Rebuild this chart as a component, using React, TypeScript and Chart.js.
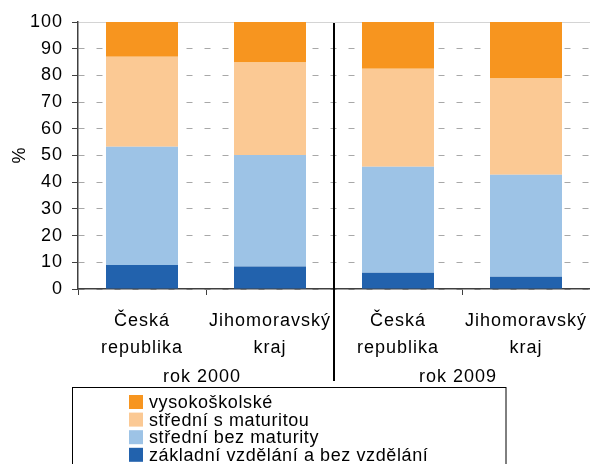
import React, { useEffect, useRef } from "react";
import { Chart, registerables } from "chart.js";

Chart.register(...registerables);

const categories = [
  ["Česká", "republika"],
  ["Jihomoravský", "kraj"],
  ["Česká", "republika"],
  ["Jihomoravský", "kraj"],
];
const groups = ["rok 2000", "rok 2009"];
const zakladni = [9.0, 8.4, 6.1, 4.6];
const stredniBez = [44.3, 41.8, 39.7, 38.2];
const stredniS = [33.7, 34.6, 36.7, 36.0];
const vysoko = [13.0, 15.2, 17.5, 21.2];
const seriesNames = [
  "základní vzdělání a bez vzdělání",
  "střední bez maturity",
  "střední s maturitou",
  "vysokoškolské",
];
const seriesColors = ["#2262AD", "#9DC3E6", "#FBC994", "#F7951F"];
const yAxisTitle = "%";

const FONT = "'Liberation Sans', Arial, sans-serif";
const SPACING = "1px";

const customPlugin = {
  id: "custom",
  beforeUpdate(chart: any) {
    chart.ctx.letterSpacing = SPACING;
  },
  beforeDraw(chart: any) {
    chart.ctx.letterSpacing = SPACING;
  },
  afterDraw(chart: any) {
    const ctx = chart.ctx;
    const x = chart.scales.x;
    const area = chart.chartArea;
    ctx.save();
    ctx.letterSpacing = SPACING;
    // separator between years
    const sepX = Math.round((x.getPixelForValue(1) + x.getPixelForValue(2)) / 2);
    ctx.strokeStyle = "#000";
    ctx.lineWidth = 2;
    ctx.beginPath();
    ctx.moveTo(sepX, area.top + 1);
    ctx.lineTo(sepX, 381);
    ctx.stroke();
    // group labels
    ctx.font = `18px ${FONT}`;
    ctx.fillStyle = "#000";
    ctx.textAlign = "center";
    ctx.textBaseline = "middle";
    groups.forEach((g, i) => {
      const cx = (x.getPixelForValue(2 * i) + x.getPixelForValue(2 * i + 1)) / 2;
      ctx.fillText(g, cx - 4, 377);
    });
    // y title
    ctx.save();
    ctx.translate(20, 155);
    ctx.rotate(-Math.PI / 2);
    ctx.fillText(yAxisTitle, 0, 0);
    ctx.restore();
    // legend
    ctx.strokeStyle = "#000";
    ctx.lineWidth = 1;
    ctx.strokeRect(72.5, 387.5, 433.5, 90);
    const ds = chart.data.datasets.slice().reverse();
    ctx.textAlign = "left";
    ctx.letterSpacing = "0.6px";
    ds.forEach((d: any, i: number) => {
      const cy = 402 + i * 17.6;
      ctx.fillStyle = d.backgroundColor;
      ctx.fillRect(129, cy - 7, 14, 14);
      ctx.fillStyle = "#000";
      ctx.fillText(d.label, 149, cy + 1);
    });
    ctx.restore();
  },
};

export default function App() {
  const ref = useRef<HTMLCanvasElement>(null);
  useEffect(() => {
    const values = [zakladni, stredniBez, stredniS, vysoko];
    const chart = new Chart(ref.current!, {
      type: "bar",
      data: {
        labels: categories,
        datasets: values.map((v, i) => ({
          label: seriesNames[i],
          data: v,
          backgroundColor: seriesColors[i],
          borderWidth: 0,
          barPercentage: 0.5625,
          categoryPercentage: 1,
        })),
      },
      options: {
        responsive: false,
        animation: false,
        devicePixelRatio: 1,
        layout: { padding: { top: 22, left: 0, right: 0, bottom: 0 } },
        plugins: { legend: { display: false }, tooltip: { enabled: false } },
        scales: {
          x: {
            stacked: true,
            offset: true,
            grid: {
              offset: true,
              drawOnChartArea: false,
              drawTicks: true,
              tickLength: 6,
              tickColor: "#404040",
              tickWidth: 1,
            },
            border: { color: "#404040", width: 1.5 },
            ticks: {
              color: "#000",
              font: { family: FONT, size: 18, lineHeight: 1.5 },
              padding: 13,
              maxRotation: 0,
              minRotation: 0,
              autoSkip: false,
            },
            afterFit(scale: any) {
              scale.height = 175;
              scale.paddingLeft = 0;
              scale.paddingRight = 0;
            },
          },
          y: {
            stacked: true,
            min: 0,
            max: 100,
            ticks: {
              stepSize: 10,
              color: "#000",
              font: { family: FONT, size: 18 },
              padding: 9,
            },
            grid: {
              color: (c: any) => (c.tick && c.tick.value === 100 ? "#d4d4d4" : "#a8a8a8"),
              lineWidth: 1,
              drawTicks: true,
              tickLength: 6,
              tickColor: "#404040",
              tickWidth: 1,
            },
            border: {
              color: "#404040",
              width: 1.5,
              dash: (c: any) => (c.tick && c.tick.value === 100 ? [] : [6, 12]),
            },
            afterFit(scale: any) {
              scale.width = 78;
            },
          },
        },
      },
      plugins: [customPlugin],
    } as any);
    return () => chart.destroy();
  }, []);
  return (
    <div style={{ position: "fixed", left: 0, top: 0, width: 590, height: 464, background: "#fff" }}>
      <canvas ref={ref} width={590} height={464} style={{ display: "block" }} />
    </div>
  );
}
